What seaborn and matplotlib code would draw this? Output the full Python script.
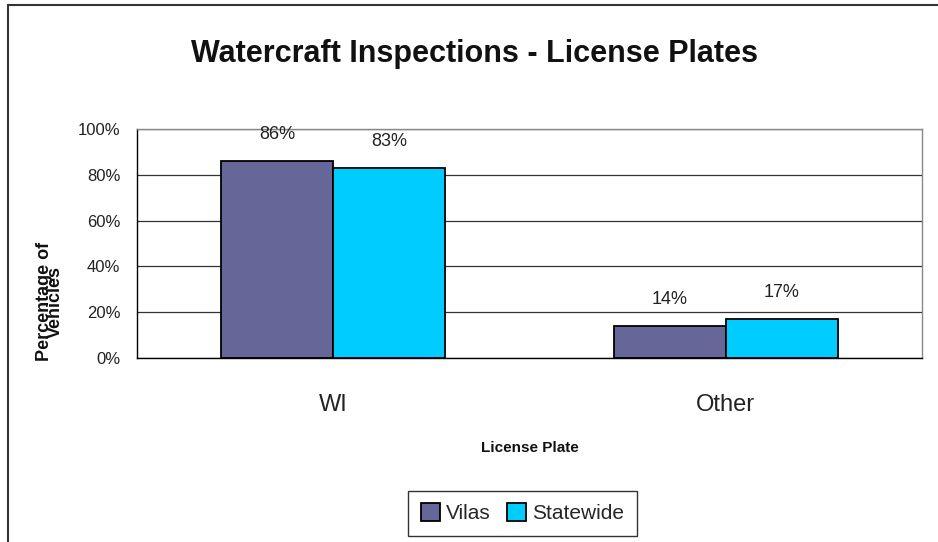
import matplotlib
matplotlib.use("Agg")
import matplotlib.pyplot as plt
from matplotlib.lines import Line2D
import pandas as pd
import seaborn as sns

plates = ["WI", "Other"]
series = ["Vilas", "Statewide"]
vilas_pct = [86, 14]
statewide_pct = [83, 17]
yticks = [0, 20, 40, 60, 80, 100]

df = pd.DataFrame({
    "plate": plates * 2,
    "area": [series[0]] * 2 + [series[1]] * 2,
    "pct": vilas_pct + statewide_pct,
})

sns.set_theme(style="white")
plt.rcParams["font.family"] = ["Liberation Sans", "DejaVu Sans"]

fig = plt.figure(figsize=(9.38, 5.42), dpi=100)
ax = fig.add_axes([0.146, 0.3395, 0.837, 0.4225])

sns.barplot(data=df, x="plate", y="pct", hue="area", order=plates,
            hue_order=series, palette=["#666699", "#00CCFF"], width=0.57,
            edgecolor="black", linewidth=1.3, ax=ax, saturation=1)

ax.set_xlim(-0.5, 1.5)
ax.set_ylim(0, 100)
ax.set_yticks(yticks)
ax.set_yticklabels([f"{v}%" for v in yticks], fontsize=12, color="#222222")
ax.yaxis.grid(True, color="#333333", linewidth=0.9)
ax.set_axisbelow(True)

# ticks at the category boundaries, labels in between
ax.set_xticks([-0.5, 0.5, 1.5])
ax.set_xticklabels([])
ax.tick_params(axis="x", which="major", length=9, width=0.9, color="black", direction="out")
ax.tick_params(axis="y", length=9, width=0.9, color="black", direction="out", pad=3)
for i, p in enumerate(plates):
    ax.text(i, -20.5, p, ha="center", va="center", fontsize=17, color="#222222")

for s in ["left", "bottom"]:
    ax.spines[s].set_color("black")
    ax.spines[s].set_linewidth(1.0)
for s in ["top", "right"]:
    ax.spines[s].set_color("#888888")
    ax.spines[s].set_linewidth(1.0)

for cont in ax.containers:
    ax.bar_label(cont, labels=[f"{v:.0f}%" for v in cont.datavalues],
                 padding=13, fontsize=13, color="#222222")

ax.set_xlabel("")
ax.set_ylabel("")
ax.text(0.5, -39.5, "License Plate", ha="center", va="center", fontsize=11,
        fontweight="bold", color="#111111")

fig.text(0.053, 0.443, "Percentage of\nVehicles", rotation=90, ha="center",
         va="center", fontsize=13, fontweight="bold", linespacing=0.55, color="#111111")

fig.suptitle("Watercraft Inspections - License Plates", x=0.506, y=0.928,
             fontsize=22, fontweight="bold", color="#111111")

ax.legend_.remove()
h, l = ax.get_legend_handles_labels()
leg = fig.legend(h, l, loc="center", bbox_to_anchor=(0.557, 0.053), ncol=2,
                 frameon=True, fancybox=False, fontsize=15, handlelength=0.9,
                 handleheight=0.9, handletextpad=0.3, columnspacing=0.8,
                 borderpad=0.6)
leg.get_frame().set_edgecolor("black")
leg.get_frame().set_linewidth(1.0)

# chart-area border (top and left edges visible)
fig.add_artist(Line2D([0.0085, 1.0], [0.991, 0.991], transform=fig.transFigure,
                      color="#333333", linewidth=1.5))
fig.add_artist(Line2D([0.0085, 0.0085], [0.0, 0.991], transform=fig.transFigure,
                      color="#333333", linewidth=1.5))

fig.savefig("out.png", dpi=100)
